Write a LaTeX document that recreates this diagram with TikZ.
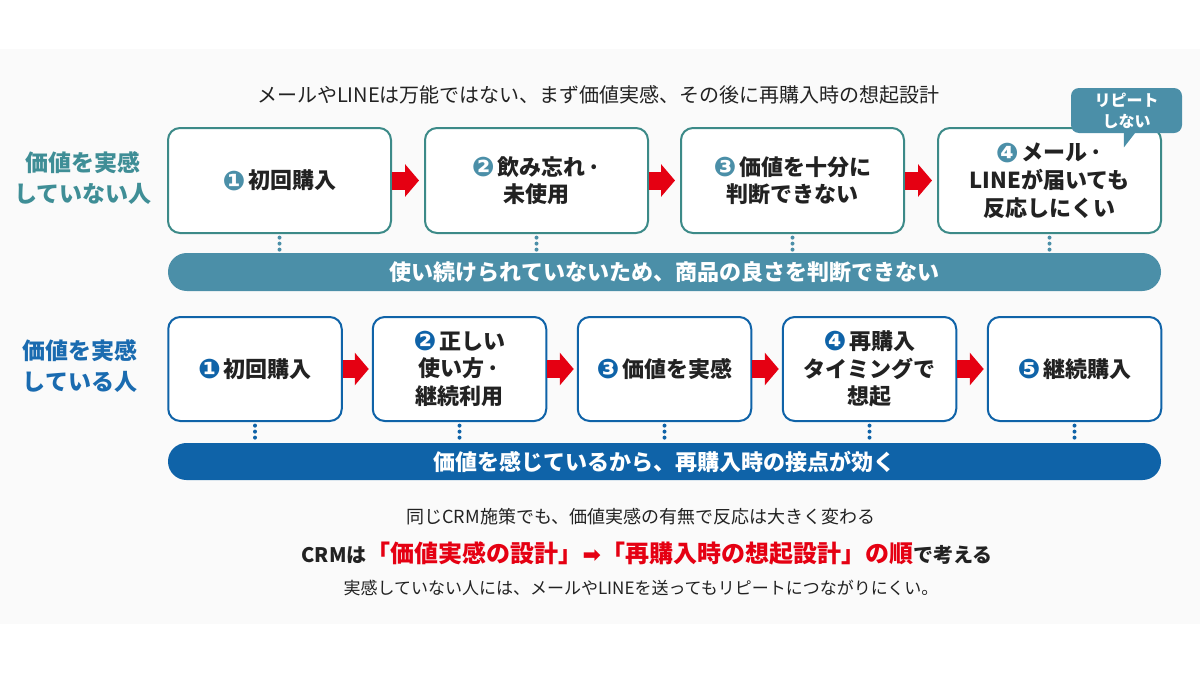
\documentclass[tikz,border=0pt]{standalone}
\usepackage{fontspec}
\setmainfont{Noto Sans CJK JP}
\newfontfamily\dv{DejaVu Sans}
\usetikzlibrary{arrows.meta}
\definecolor{panel}{HTML}{FAFAFA}
\definecolor{txt}{HTML}{222222}
\definecolor{tealline}{HTML}{3C8A88}
\definecolor{tealfill}{HTML}{4B8FA8}
\definecolor{tealtext}{HTML}{3F8E96}
\definecolor{bluec}{HTML}{0F63A8}
\definecolor{bluetext}{HTML}{1A6BB0}
\definecolor{redc}{HTML}{E50012}
\newcommand\nm[2]{{\dv\fontsize{13.5}{13.5}\selectfont\color{#2}\raisebox{-0.6pt}{#1}}\hspace{1.5pt}}
\newcommand\md{\hspace{1pt}·}
\tikzset{
  tbox/.style={draw=tealline, line width=1pt, fill=white, rounded corners=6pt,
    minimum width=111.5pt, minimum height=52.5pt, align=center, inner sep=0pt,
    text=txt, font=\bfseries\fontsize{11}{13.8}\selectfont},
  bbox/.style={tbox, draw=bluec, minimum width=86.75pt, minimum height=52pt},
  tbar/.style={fill=tealfill, rounded corners=9.4pt, minimum width=496.5pt,
    minimum height=19pt, inner sep=0pt, text=white, font=\bfseries\fontsize{11}{13}\selectfont},
  bbar/.style={tbar, fill=bluec, rounded corners=9.2pt, minimum height=18.5pt},
  rarrow/.style={draw=redc, line width=9pt, -{Triangle[length=7pt,width=16pt]}},
  tdot/.style={draw=tealfill, line width=2pt, line cap=round, dash pattern=on 0pt off 3pt,
    shorten <=1.8pt, shorten >=0.6pt},
  bdot/.style={tdot, draw=bluec},
  lab/.style={align=center, inner sep=0pt, font=\bfseries\fontsize{11.5}{15.3}\selectfont},
  plain/.style={inner sep=0pt, text=txt},
  bubble/.style={fill=tealfill, rounded corners=4pt, minimum width=55.5pt, minimum height=22.5pt,
    inner sep=0pt, align=center, text=white, font=\bfseries\fontsize{8}{10.5}\selectfont}
}
\begin{document}
\begin{tikzpicture}[x=0.5pt,y=-0.5pt]
\useasboundingbox (0,0) rectangle (1200,675);
\fill[white] (0,0) rectangle (1200,675);
\fill[panel] (0,49) rectangle (1200,624);

% title
\node[plain, font=\fontsize{10}{12}\selectfont] (title) at (598.5,95) {メールやLINEは万能ではない、まず価値実感、その後に再購入時の想起設計};

% left labels
\node[lab, text=tealtext] (tl) at (83,178) {価値を実感\\していない人};
\node[lab, text=bluetext] (bl) at (80,366) {価値を実感\\している人};

% top row
\node[tbox] (a1) at (279.5,180.5) {\nm{❶}{tealfill}初回購入};
\node[tbox] (a2) at (536.5,180.5) {\nm{❷}{tealfill}飲み忘れ\md\\未使用};
\node[tbox] (a3) at (792.5,180.5) {\nm{❸}{tealfill}価値を十分に\\判断できない};
\node[tbox] (a4) at (1049.5,180.5) {\nm{❹}{tealfill}メール\md\\LINEが届いても\\反応しにくい};

\draw[rarrow, shorten >=2.5pt] (a1) -- (a2);
\draw[rarrow, shorten >=2.5pt] (a2) -- (a3);
\draw[rarrow, shorten >=2.5pt] (a3) -- (a4);

% bubble
\node[bubble] (bb) at (1126.5,110.5) {リピート\\しない};
\fill[tealfill] ([xshift=-1.3pt,yshift=0.5pt]bb.south) -- ++(0,-7.5pt) -- ([xshift=4.5pt,yshift=0.5pt]bb.south) -- cycle;

% top bar
\node[tbar] (tb) at (664.5,272) {使い続けられていないため、商品の良さを判断できない};
\foreach \n in {a1,a2,a3,a4} \draw[tdot] (\n.south) -- (\n.south |- tb.north);

% bottom row
\node[bbox] (b1) at (255,369) {\nm{❶}{bluec}初回購入};
\node[bbox] (b2) at (459.5,369) {\nm{❷}{bluec}正しい\\使い方\md\\継続利用};
\node[bbox] (b3) at (664.5,369) {\nm{❸}{bluec}価値を実感};
\node[bbox] (b4) at (869.5,369) {\nm{❹}{bluec}再購入\\タイミングで\\想起};
\node[bbox] (b5) at (1074.5,369) {\nm{❺}{bluec}継続購入};

\draw[rarrow, shorten >=1.5pt] (b1) -- (b2);
\draw[rarrow, shorten >=1.5pt] (b2) -- (b3);
\draw[rarrow, shorten >=1.5pt] (b3) -- (b4);
\draw[rarrow, shorten >=1.5pt] (b4) -- (b5);

\node[bbar] (bt) at (664.5,461.5) {価値を感じているから、再購入時の接点が効く};
\foreach \n in {b1,b2,b3,b4,b5} \draw[bdot] (\n.south) -- (\n.south |- bt.north);

% bottom text
\node[plain, font=\fontsize{9}{11}\selectfont] (l1) at (641,517) {同じCRM施策でも、価値実感の有無で反応は大きく変わる};
\node[plain, font=\bfseries\fontsize{10}{12}\selectfont] (l2) at (647,553) {CRMは{\color{redc}\fontsize{12}{14}\selectfont「価値実感の設計」{\dv\fontsize{11}{11}\selectfont ➡}「再購入時の想起設計」の順}で考える};
\node[plain, font=\fontsize{8.5}{10}\selectfont] (l3) at (641,588) {実感していない人には、メールやLINEを送ってもリピートにつながりにくい。};
\end{tikzpicture}
\end{document}
